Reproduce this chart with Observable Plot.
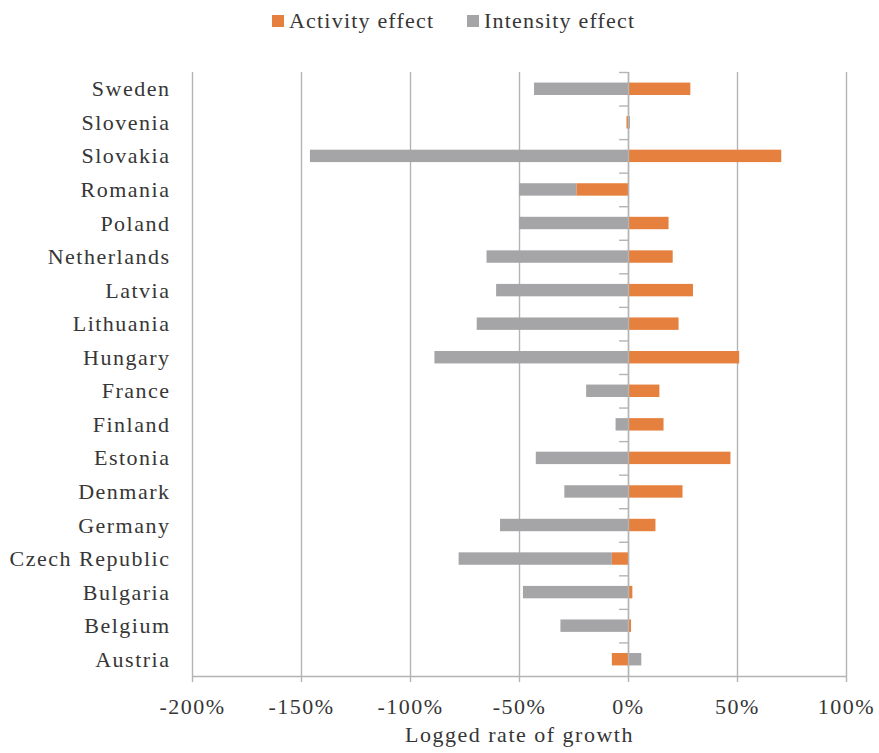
<!DOCTYPE html>
<html>
<head>
<meta charset="utf-8">
<script src="https://cdn.jsdelivr.net/npm/d3@7"></script>
<script src="https://cdn.jsdelivr.net/npm/@observablehq/plot@0.6"></script>
<style>
  html, body { margin: 0; padding: 0; background: #fff; }
  #wrap { position: relative; width: 879px; height: 753px; overflow: hidden; }
  #legend { position: absolute; left: 0; top: 0; width: 879px; height: 40px;
    font-family: "Liberation Serif", "Times New Roman", serif; font-size: 22px; color: #363636; letter-spacing: 1.2px; }
  #legend .item { position: absolute; top: 9px; display: flex; align-items: center; line-height: 24px; white-space: nowrap; }
  #legend .sw { width: 12px; height: 12px; margin-right: 5px; }
</style>
</head>
<body>
<div id="wrap"><div id="legend"></div><div id="chart"></div></div>
<script>
const countries = ["Sweden","Slovenia","Slovakia","Romania","Poland","Netherlands","Latvia","Lithuania","Hungary","France","Finland","Estonia","Denmark","Germany","Czech Republic","Bulgaria","Belgium","Austria"];
const activity  = [28.6, -0.7, 70.3, -23.7, 18.6, 20.5, 29.8, 23.2, 51.0, 14.4, 16.3, 47.0, 25.0, 12.6, -7.4, 2.0, 1.4, -7.4];
const intensity = [-43.1, 0.9, -145.9, -26.3, -50.0, -64.9, -60.5, -69.4, -88.8, -19.2, -5.7, -42.3, -29.2, -58.7, -70.3, -48.2, -31.0, 6.1];
const series = ["Activity effect", "Intensity effect"];
const colors = ["#E6803E", "#A5A5A8"];
const xTicks = [-200, -150, -100, -50, 0, 50, 100];
const axisTitle = "Logged rate of growth";

const rows = countries.flatMap((c, i) => [
  {country: c, effect: series[0], value: activity[i]},
  {country: c, effect: series[1], value: intensity[i]}
]);

const W = 879, H = 753, mt = 72, mb = 77, ml = 192, mr = 33;
const step = (H - mt - mb) / countries.length;
const textColor = "#363636";
const gridColor = "#b4b4b4";

const plot = Plot.plot({
  width: W, height: H,
  marginTop: mt, marginBottom: mb, marginLeft: ml, marginRight: mr,
  style: {fontFamily: "'Liberation Serif', 'Times New Roman', serif", fontSize: "22px", color: textColor, letterSpacing: "1.5px", background: "#fff"},
  x: {domain: [-200, 100], ticks: xTicks, tickFormat: d => d + "%", label: null},
  y: {domain: countries, paddingInner: 0.63, paddingOuter: 0.315, round: false, label: null},
  color: {domain: series, range: colors},
  marks: [
    Plot.gridX(xTicks, {stroke: gridColor, strokeOpacity: 1, strokeWidth: 1.4}),
    Plot.barX(rows, Plot.stackX({y: "country", x: "value", fill: "effect"})),
    Plot.ruleX([0], {stroke: gridColor, strokeWidth: 1.4}),
    Plot.ruleY(countries, {y: d => d, dy: -step / 2, x1: -4.1, x2: 0, stroke: gridColor, strokeWidth: 1.4}),
    Plot.ruleY([countries[countries.length - 1]], {y: d => d, dy: step / 2, x1: -200, x2: 100, stroke: gridColor, strokeWidth: 1.4}),
    Plot.axisX(xTicks, {tickSize: 6, tickPadding: 16, stroke: gridColor, strokeOpacity: 1, strokeWidth: 1.4, fill: textColor, tickFormat: d => d + "%", label: null}),
    Plot.axisY({tickSize: 0, tickPadding: 22, fill: textColor, label: null}),
    Plot.text([axisTitle], {frameAnchor: "bottom", dy: 65, fill: textColor, fontSize: 22})
  ]
});
document.getElementById("chart").appendChild(plot);

const legend = document.getElementById("legend");
const legendLeft = [272, 467];
series.forEach((s, i) => {
  const item = document.createElement("div");
  item.className = "item";
  item.style.left = legendLeft[i] + "px";
  const sw = document.createElement("div");
  sw.className = "sw";
  sw.style.background = colors[i];
  const t = document.createElement("span");
  t.textContent = s;
  item.appendChild(sw); item.appendChild(t);
  legend.appendChild(item);
});
</script>
</body>
</html>
